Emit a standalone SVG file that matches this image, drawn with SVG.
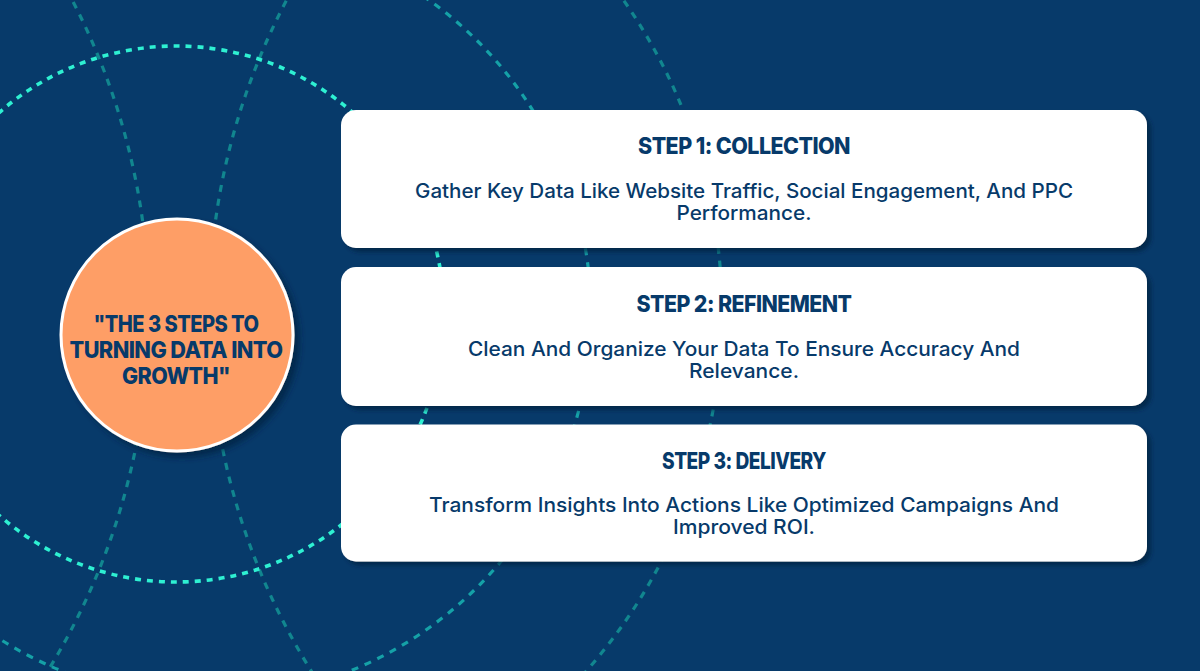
<svg xmlns="http://www.w3.org/2000/svg" width="1200" height="671" viewBox="0 0 1200 671">
  <defs>
    <filter id="boxShadow" x="-5%" y="-10%" width="115%" height="130%">
      <feDropShadow dx="4" dy="4" stdDeviation="2" flood-color="#02213f" flood-opacity="0.75"/>
    </filter>
    <filter id="hubShadow" x="-20%" y="-20%" width="145%" height="145%">
      <feDropShadow dx="5" dy="5" stdDeviation="3" flood-color="#02213f" flood-opacity="0.75"/>
    </filter>
  </defs>
  <style>
    .arc { fill: none; stroke-width: 3.2; }
    .bright { stroke: #2EF0D2; stroke-width: 3.6; stroke-dasharray: 6 6; }
    .teal { stroke: #15A1A7; stroke-dasharray: 7 7; }
    .muted { stroke: #11868F; stroke-dasharray: 7 7; }
    .box { fill: #FFFFFF; filter: url(#boxShadow); }
    .title { font-family: Inter, "Liberation Sans", sans-serif; font-weight: 800; font-size: 23px; letter-spacing: -0.6px; fill: #073A6A; text-anchor: middle; }
    .desc { font-family: Inter, "Liberation Sans", sans-serif; font-weight: 500; font-size: 20px; fill: #073A6A; text-anchor: middle; }
    .hubtext { font-family: Inter, "Liberation Sans", sans-serif; font-weight: 800; font-size: 23px; letter-spacing: -0.6px; fill: #073A6A; text-anchor: middle; }
  </style>

  <rect x="0" y="0" width="1200" height="671" fill="#073A6A"/>

  <g id="connectors">
    <circle class="arc muted" cx="-531" cy="314" r="680"/>
    <circle class="arc muted" cx="883" cy="314" r="674"/>
    <circle class="arc muted" cx="179" cy="312" r="543"/>
    <circle class="arc teal" cx="206" cy="314" r="385"/>
    <circle class="arc bright" cx="176" cy="314" r="268"/>
  </g>

  <g id="hub">
    <circle cx="177" cy="335" r="116" fill="#FE9E66" stroke="#FFFFFF" stroke-width="3" filter="url(#hubShadow)"/>
    <text class="hubtext" x="176" y="332" textLength="165" lengthAdjust="spacingAndGlyphs">"THE 3 STEPS TO</text>
    <text class="hubtext" x="176" y="358" textLength="213" lengthAdjust="spacingAndGlyphs">TURNING DATA INTO</text>
    <text class="hubtext" x="176" y="384" textLength="108" lengthAdjust="spacingAndGlyphs">GROWTH"</text>
  </g>

  <g id="step1">
    <rect class="box" x="341" y="110" width="806" height="138" rx="15"/>
    <text class="title" x="744" y="154" textLength="212" lengthAdjust="spacingAndGlyphs">STEP 1: COLLECTION</text>
    <text class="desc" x="744" y="197.5" textLength="658" lengthAdjust="spacingAndGlyphs">Gather Key Data Like Website Traffic, Social Engagement, And PPC</text>
    <text class="desc" x="744" y="219.5" textLength="135" lengthAdjust="spacingAndGlyphs">Performance.</text>
  </g>

  <g id="step2">
    <rect class="box" x="341" y="267" width="806" height="139" rx="15"/>
    <text class="title" x="744" y="311.5" textLength="215" lengthAdjust="spacingAndGlyphs">STEP 2: REFINEMENT</text>
    <text class="desc" x="744" y="355.5" textLength="552" lengthAdjust="spacingAndGlyphs">Clean And Organize Your Data To Ensure Accuracy And</text>
    <text class="desc" x="744" y="377.5" textLength="110" lengthAdjust="spacingAndGlyphs">Relevance.</text>
  </g>

  <g id="step3">
    <rect class="box" x="341" y="424.5" width="806" height="137" rx="15"/>
    <text class="title" x="744" y="468.5" textLength="164" lengthAdjust="spacingAndGlyphs">STEP 3: DELIVERY</text>
    <text class="desc" x="744" y="512" textLength="630" lengthAdjust="spacingAndGlyphs">Transform Insights Into Actions Like Optimized Campaigns And</text>
    <text class="desc" x="744" y="534" textLength="142" lengthAdjust="spacingAndGlyphs">Improved ROI.</text>
  </g>
</svg>
